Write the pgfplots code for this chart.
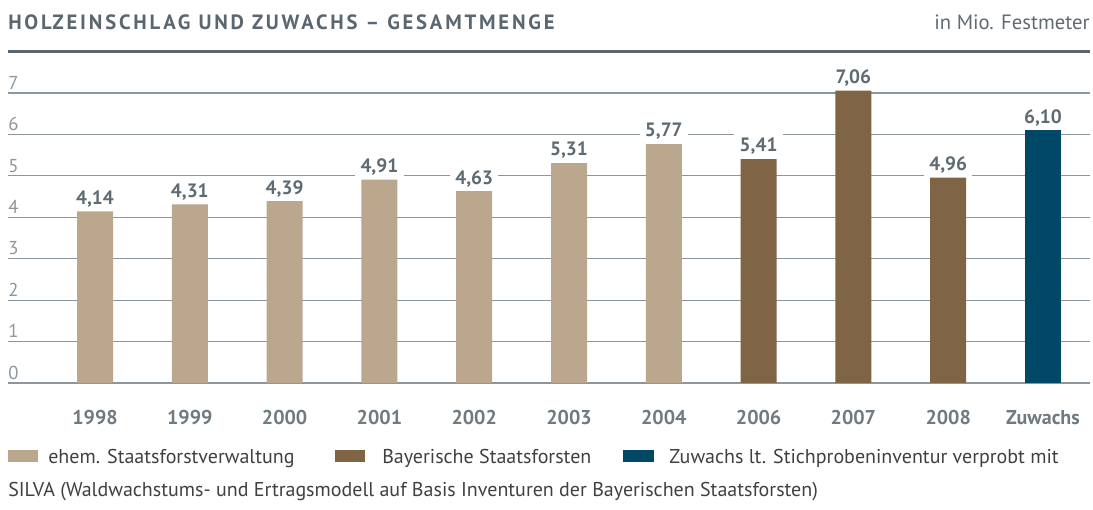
\documentclass[border=0pt]{standalone}
\usepackage{pgfplots}
\pgfplotsset{compat=1.18}
\usepackage{fontspec}
\setmainfont{PT Sans}
\definecolor{titlegray}{HTML}{5A6770}
\definecolor{labelgray}{HTML}{5F6B73}
\definecolor{gridgray}{HTML}{8C969C}
\definecolor{textgray}{HTML}{404040}
\definecolor{tan}{HTML}{BBA68E}
\definecolor{brown}{HTML}{7F6445}
\definecolor{navy}{HTML}{004866}
\begin{document}
\begin{tikzpicture}
% page: 1093x510 px, 1px = 0.75pt, axis corner at px (8,383)
\path[use as bounding box] (-6pt,-95.25pt) rectangle (813.75pt,287.25pt);
\begin{axis}[at={(0,0)}, anchor=south west, scale only axis,
  width=811.5pt, height=217.5pt,
  xmin=-0.918, xmax=10.496, ymin=0, ymax=7,
  axis line style={draw=none}, tick style={draw=none},
  major tick length=0pt,
  ytick={0,...,7}, ymajorgrids,
  grid style={line width=0.9pt, gridgray},
  /pgf/number format/assume math mode=true,
  yticklabel style={anchor=south west, inner xsep=0pt, inner ysep=2.5pt,
    font=\fontsize{14}{14}\selectfont, text=gridgray},
  xtick={0,...,10},
  xticklabels={1998,1999,2000,2001,2002,2003,2004,2006,2007,2008,Zuwachs},
  xticklabel style={anchor=north, yshift=-17pt,
    font=\fontsize{15}{15}\selectfont\bfseries, text=labelgray!90},
  ybar, bar width=27pt,
  nodes near coords={\pgfmathprintnumber[fixed, fixed zerofill, precision=2, use comma]{\pgfplotspointmeta}},
  nodes near coords style={fill=white, inner xsep=4pt, inner ysep=3pt,
    font=\fontsize{14.5}{14.5}\selectfont\bfseries, text=labelgray, anchor=south},
  clip=false,
]
\addplot[fill=tan, draw=none, bar shift=0pt] coordinates {(0,4.14) (1,4.31) (2,4.39) (3,4.91) (4,4.63) (5,5.31) (6,5.77)};
\addplot[fill=brown, draw=none, bar shift=0pt] coordinates {(7,5.41) (8,7.06) (9,4.96)};
\addplot[fill=navy, draw=none, bar shift=0pt] coordinates {(10,6.10)};
\end{axis}
% title and rule
\node[anchor=base west, inner sep=0pt, text=titlegray,
  font=\fontsize{15.5}{15.5}\selectfont\bfseries\addfontfeatures{LetterSpace=13.5}]
  at (0,264.75pt) {HOLZEINSCHLAG UND ZUWACHS – GESAMTMENGE};
\node[anchor=base east, inner sep=0pt, text=labelgray,
  font=\fontsize{15.5}{15.5}\selectfont] at (811.5pt,264.75pt) {in Mio. Festmeter};
\draw[titlegray, line width=2.25pt] (0,248.6pt) -- (811.5pt,248.6pt);
% legend
\begin{scope}[every node/.style={anchor=base west, inner sep=0pt, text=textgray,
    font=\fontsize{15}{15}\selectfont}]
\fill[tan] (0,-59.25pt) rectangle (22.5pt,-50.25pt);
\node at (30pt,-60.75pt) {ehem. Staatsforstverwaltung};
\fill[brown] (245.25pt,-59.25pt) rectangle (267.75pt,-50.25pt);
\node at (280.5pt,-60.75pt) {Bayerische Staatsforsten};
\fill[navy] (461.25pt,-59.25pt) rectangle (484.5pt,-50.25pt);
\node at (495.75pt,-60.75pt) {Zuwachs lt. Stichprobeninventur verprobt mit};
\node at (0,-85.5pt) {SILVA (Waldwachstums- und Ertragsmodell auf Basis Inventuren der Bayerischen Staatsforsten)};
\end{scope}
\end{tikzpicture}
\end{document}
